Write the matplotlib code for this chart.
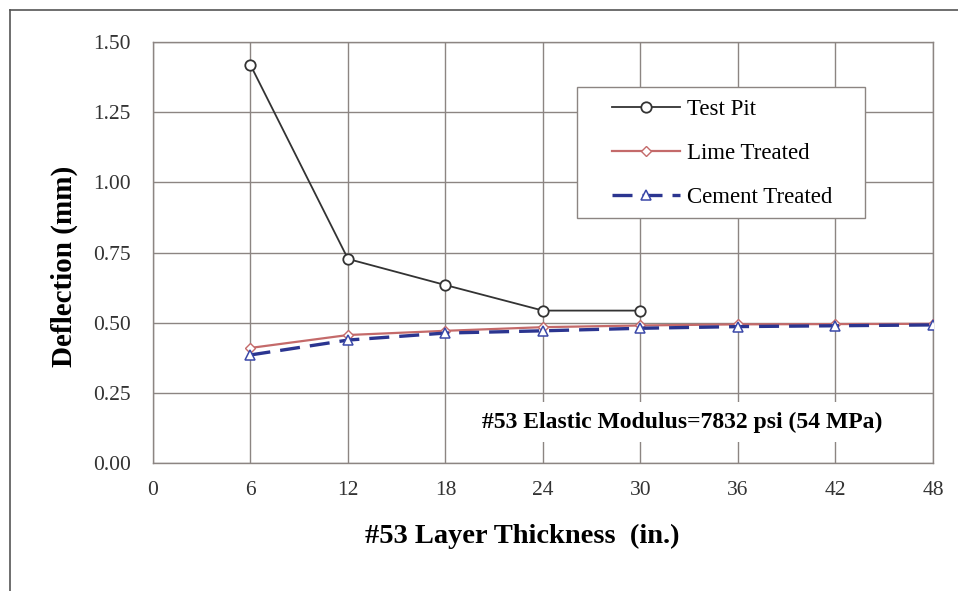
import matplotlib
matplotlib.use("Agg")
import matplotlib.pyplot as plt
from matplotlib.lines import Line2D
from matplotlib.patches import Rectangle

# data
thickness = [6, 12, 18, 24, 30, 36, 42, 48]
test_pit_x = [6, 12, 18, 24, 30]
test_pit = [1.418, 0.727, 0.634, 0.543, 0.543]
lime_treated = [0.410, 0.456, 0.471, 0.484, 0.490, 0.494, 0.495, 0.496]
cement_treated = [0.385, 0.438, 0.463, 0.471, 0.480, 0.486, 0.489, 0.492]

x_ticks = [0, 6, 12, 18, 24, 30, 36, 42, 48]
y_ticks = [0.00, 0.25, 0.50, 0.75, 1.00, 1.25, 1.50]

plt.rcParams['font.family'] = ['Liberation Serif', 'DejaVu Serif']

fig = plt.figure(figsize=(9.58, 5.91), dpi=100)
ax = fig.add_axes([0.1597, 0.2166, 0.8142, 0.7123])

grid_col = "#8c8582"
ax.plot(test_pit_x, test_pit, color="#333333", linewidth=1.3, marker="o",
        markersize=7.5, markerfacecolor="white", markeredgecolor="#333333",
        markeredgewidth=1.3, label="Test Pit", zorder=4)
ax.plot(thickness, lime_treated, color="#c46a6a", linewidth=1.6, marker="D",
        markersize=5, markerfacecolor="white", markeredgecolor="#c46a6a",
        markeredgewidth=1.0, label="Lime Treated", zorder=3)
ax.plot(thickness, cement_treated, color="#2b3590", linewidth=2.4,
        dashes=(6, 3), marker="^", markersize=6.5, markerfacecolor="white",
        markeredgecolor="#3a48a8", markeredgewidth=1.1,
        label="Cement Treated", zorder=5)

ax.set_xlim(0, 48)
ax.set_ylim(0, 1.5)
ax.set_xticks(x_ticks)
ax.set_yticks(y_ticks)
ax.set_yticklabels([f"{v:.2f}" for v in y_ticks])
ax.tick_params(length=0, labelsize=15.5, colors="#333333")
ax.tick_params(axis="y", pad=16)
ax.tick_params(axis="x", pad=13)
ax.grid(True, color=grid_col, linewidth=1.0)
ax.set_axisbelow(True)
for s in ax.spines.values():
    s.set_color(grid_col)
    s.set_linewidth(1.0)

ax.set_xlabel("#53 Layer Thickness  (in.)", fontsize=20.5, fontweight="bold",
              va="center")
ax.xaxis.set_label_coords(0.474, -0.175)
ax.set_ylabel("Deflection (mm)", fontsize=21, fontweight="bold", va="center")
ax.yaxis.set_label_coords(-0.114, 0.468)

ax.text(0.679, 0.097, "#53 Elastic Modulus=7832 psi (54 MPa)",
        transform=ax.transAxes, ha="center", va="center", fontsize=17,
        fontweight="bold", zorder=6,
        bbox=dict(facecolor="white", edgecolor="none", pad=7))

# legend frame drawn separately so its size matches the original box
ax.add_patch(Rectangle((0.5436, 0.582), 0.369, 0.311, transform=ax.transAxes,
                       facecolor="white", edgecolor=grid_col, linewidth=1.0,
                       zorder=6))
leg = ax.legend(loc="upper left", bbox_to_anchor=(0.5885, 0.8645),
                borderaxespad=0, borderpad=0, frameon=False, fontsize=16.5,
                handlelength=2.95, labelspacing=1.0, handletextpad=0.3)
leg.set_zorder(7)

# outer frame of the original figure
fig.add_artist(Line2D([0.0104, 1.0], [0.983, 0.983], color="#555555",
                      linewidth=1.2, transform=fig.transFigure))
fig.add_artist(Line2D([0.0104, 0.0104], [0.0, 0.983], color="#555555",
                      linewidth=1.2, transform=fig.transFigure))

fig.savefig("out.png", dpi=100)
